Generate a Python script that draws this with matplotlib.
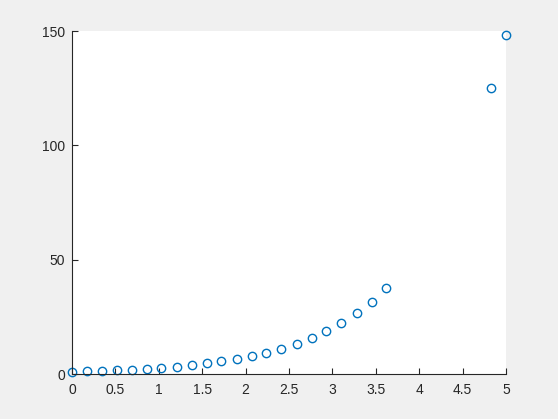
import matplotlib
matplotlib.use("Agg")
import matplotlib.pyplot as plt

# values
x_vals = [0.0, 0.17, 0.34, 0.52, 0.69, 0.86, 1.03, 1.21, 1.38, 1.55, 1.72, 1.90,
          2.07, 2.24, 2.41, 2.59, 2.76, 2.93, 3.10, 3.28, 3.45, 3.62, 4.83, 5.0]
y_vals = [1.0, 1.19, 1.41, 1.68, 1.99, 2.37, 2.82, 3.35, 3.98, 4.73, 5.62, 6.68,
          7.94, 9.43, 11.2, 13.3, 15.8, 18.8, 22.4, 26.6, 31.6, 37.5, 125.2, 148.4]
x_ticks = [0, 0.5, 1, 1.5, 2, 2.5, 3, 3.5, 4, 4.5, 5]
x_tick_labels = ["0", "0.5", "1", "1.5", "2", "2.5", "3", "3.5", "4", "4.5", "5"]
y_ticks = [0, 50, 100, 150]

plt.rcParams["font.family"] = ["Liberation Sans", "DejaVu Sans"]

fig = plt.figure(figsize=(5.58, 4.19), dpi=100)
fig.set_facecolor("#f0f0f0")
ax = fig.add_axes([0.129, 0.107, 0.778, 0.819])
ax.set_facecolor("white")

ax.plot(x_vals, y_vals, linestyle="none", marker="o", markersize=6,
        markerfacecolor="none", markeredgecolor="#0072bd", markeredgewidth=1.0,
        clip_on=False)

ax.set_xlim(0, 5)
ax.set_ylim(0, 150)
ax.set_xticks(x_ticks)
ax.set_xticklabels(x_tick_labels)
ax.set_yticks(y_ticks)

for side in ["top", "right"]:
    ax.spines[side].set_visible(False)
for side in ["left", "bottom"]:
    ax.spines[side].set_color("#262626")
    ax.spines[side].set_linewidth(0.8)

ax.tick_params(direction="in", length=4, width=0.8, colors="#262626",
               labelsize=10)
ax.tick_params(axis="x", pad=6)
ax.tick_params(axis="y", pad=5)

fig.savefig("out.png", dpi=100, facecolor=fig.get_facecolor())
